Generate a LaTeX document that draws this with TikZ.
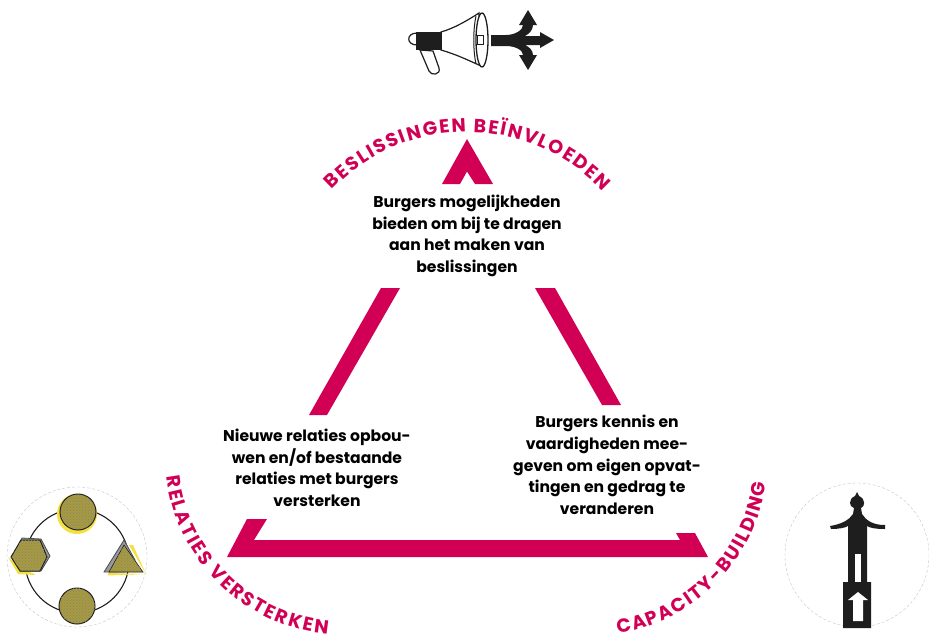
\documentclass[tikz,border=0pt]{standalone}
\usepackage{fontspec}
\setmainfont{Poppins}
\usepackage{xcolor}
\usepackage{tikz}
\usetikzlibrary{positioning, decorations.text, patterns}
\definecolor{tRed}{HTML}{D10055}
\definecolor{tGold}{HTML}{A89A3C}
\definecolor{tYellow}{HTML}{F5E042}
\definecolor{tInk}{HTML}{1E1E1E}

\begin{document}
\begin{tikzpicture}[x=1pt, y=-1pt,
  bar/.style={fill=tRed, draw=none},
  info/.style={font=\fontsize{15.6}{21.6}\selectfont\bfseries, align=center, text=black, inner sep=0pt},
  faint/.style={draw=black!25, densely dashed, line width=0.35pt},
  ink/.style={fill=tInk, draw=none},
  shapeline/.style={draw=tInk, line width=1pt},
  goldfill/.style={fill=tGold, draw=tInk, line width=1pt},
  grain/.style={pattern=crosshatch dots, pattern color=tInk!55, draw=none},
  curved/.style={decorate, decoration={text along path, text align={fit to path},
    text={|\fontsize{19}{19}\selectfont\bfseries\color{tRed}|#1}}},
]
  \useasboundingbox (0,0) rectangle (929,638);

  % triangle
  \path[bar] (442,184) -- (467,139) -- (493,184) -- (475,184) -- (467,171.5) -- (460,184) -- cycle;
  \path[bar] (381,288) -- (400,288) -- (327,415) -- (309,415) -- cycle;
  \path[bar] (535,288) -- (555,288) -- (621,405) -- (602,405) -- cycle;
  \path[bar] (227,557) -- (247,519) -- (267,519) -- (254,540) -- (680,540) -- (676,533)
    -- (695,533) -- (708,557) -- cycle;

  % texts
  \node[info] (topinfo) at (467,236) {Burgers mogelijkheden\\bieden om bij te dragen\\aan het maken van\\beslissingen};
  \node[info] (leftinfo) at (317,468) {Nieuwe relaties opbou-\\wen en/of bestaande\\relaties met burgers\\versterken};
  \node[info] (rightinfo) at (607,465) {Burgers kennis en\\vaardigheden mee-\\geven om eigen opvat-\\tingen en gedrag te\\veranderen};

  % arc labels
  \path[curved={BESLISSINGEN BEÏNVLOEDEN}] plot[domain=-136.5:-43, samples=60] ({467+186*cos(\x)},{318+186*sin(\x)});
  \path[curved={RELATIES VERSTERKEN}] plot[domain=173:95.5, samples=60] ({345+180*cos(\x)},{455+180*sin(\x)});
  \path[curved={CAPACITY-BUILDING}] plot[domain=81:8, samples=60] ({590+178*cos(\x)},{458+178*sin(\x)});

  % megaphone
  \draw[shapeline, line width=1.2pt, fill=white] (441,32) .. controls (455,28) and (468,20) .. (479,13)
    -- (481,66) .. controls (468,60) and (455,54) .. (441,50) -- cycle;
  \draw[shapeline, line width=1.2pt] (420,50) -- (433,51) -- (439,68) .. controls (441,75) and (431,76) .. (429,71) -- cycle;
  \draw[shapeline, line width=1.2pt] (417,33) .. controls (406,33) and (406,45) .. (417,45);
  \path[ink] (416,32) -- (442,32) -- (442,50) -- (416,50) -- cycle;
  \draw[shapeline, line width=1.3pt, fill=white] (482,40) ellipse [x radius=6, y radius=27];
  \draw[shapeline, line width=1pt] (476,16) .. controls (473,30) and (473,50) .. (476,64);
  \draw[shapeline, fill=white] (477,35) rectangle (483,44);

  % branching arrow
  \path[ink] (491,35) -- (506,35) .. controls (515,35) and (523,30) .. (523,25) -- (519,25) -- (528,10) -- (537,25)
    -- (533,25) .. controls (533,30) and (529,34) .. (525,36) -- (540,36) -- (540,32) -- (554,40) -- (540,48)
    -- (540,45) -- (525,45) .. controls (529,47) and (533,50) .. (533,55) -- (537,55) -- (528,70) -- (519,55)
    -- (523,55) .. controls (523,50) and (515,46) .. (506,46) -- (491,46) -- cycle;

  % ring of shapes
  \draw[faint] (77,557) circle [radius=70];
  \draw[shapeline, line width=1.1pt] (77,561) circle [radius=52];
  \fill[tYellow] (77,514) circle [radius=20];
  \fill[tYellow] (8,557) -- (18,574) -- (36,575) -- (20,567) -- cycle;
  \fill[tYellow] (108,573) -- (146,574) -- (129,545) -- (133,545) -- (146,574) -- (108,575.5) -- cycle;
  \draw[fill=black!40, draw=black!70, line width=0.8pt] (14,554) -- (22,538) -- (41,539) -- (50,556) -- (41,571) -- (21,571) -- cycle;
  \draw[fill=black!40, draw=black!70, line width=0.8pt] (124,540) -- (104,572) -- (125,572) -- (135,560) -- cycle;
  \draw[goldfill] (78,512) circle [radius=18];
  \path[grain] (78,512) circle [radius=18];
  \draw[goldfill] (11,557) -- (21,540) -- (40,540) -- (47,557) -- (40,571) -- (20,571) -- cycle;
  \path[grain] (11,557) -- (21,540) -- (40,540) -- (47,557) -- (40,571) -- (20,571) -- cycle;
  \draw[goldfill, line width=0.6pt] (124,545) -- (143,572) -- (109,572) -- cycle;
  \path[grain] (124,545) -- (143,572) -- (109,572) -- cycle;
  \draw[goldfill] (77,606) circle [radius=18];
  \path[grain] (77,606) circle [radius=18];

  % figure on a plinth
  \draw[faint] (857,555) circle [radius=72];
  \path[ink] (857,492) -- (859,496) .. controls (866,499) and (865,507) .. (861,508) -- (862,514)
    .. controls (866,520) and (872,525) .. (885,525) -- (885,529) .. controls (876,529) and (870,528) .. (867,526)
    -- (867,582) -- (871,582) -- (871,628) -- (843,628) -- (843,582) -- (848,582) -- (848,526)
    .. controls (845,528) and (838,529) .. (831,529) -- (830,526) .. controls (842,524) and (849,520) .. (853,514)
    -- (854,508) .. controls (849,507) and (848,499) .. (855,496) -- cycle;
  \fill[white] (855,554) rectangle (861,582);
  \fill[white] (858,592) -- (868,600) -- (863,600) -- (863,621) -- (853,621) -- (853,600) -- (848,600) -- cycle;
\end{tikzpicture}
\end{document}
